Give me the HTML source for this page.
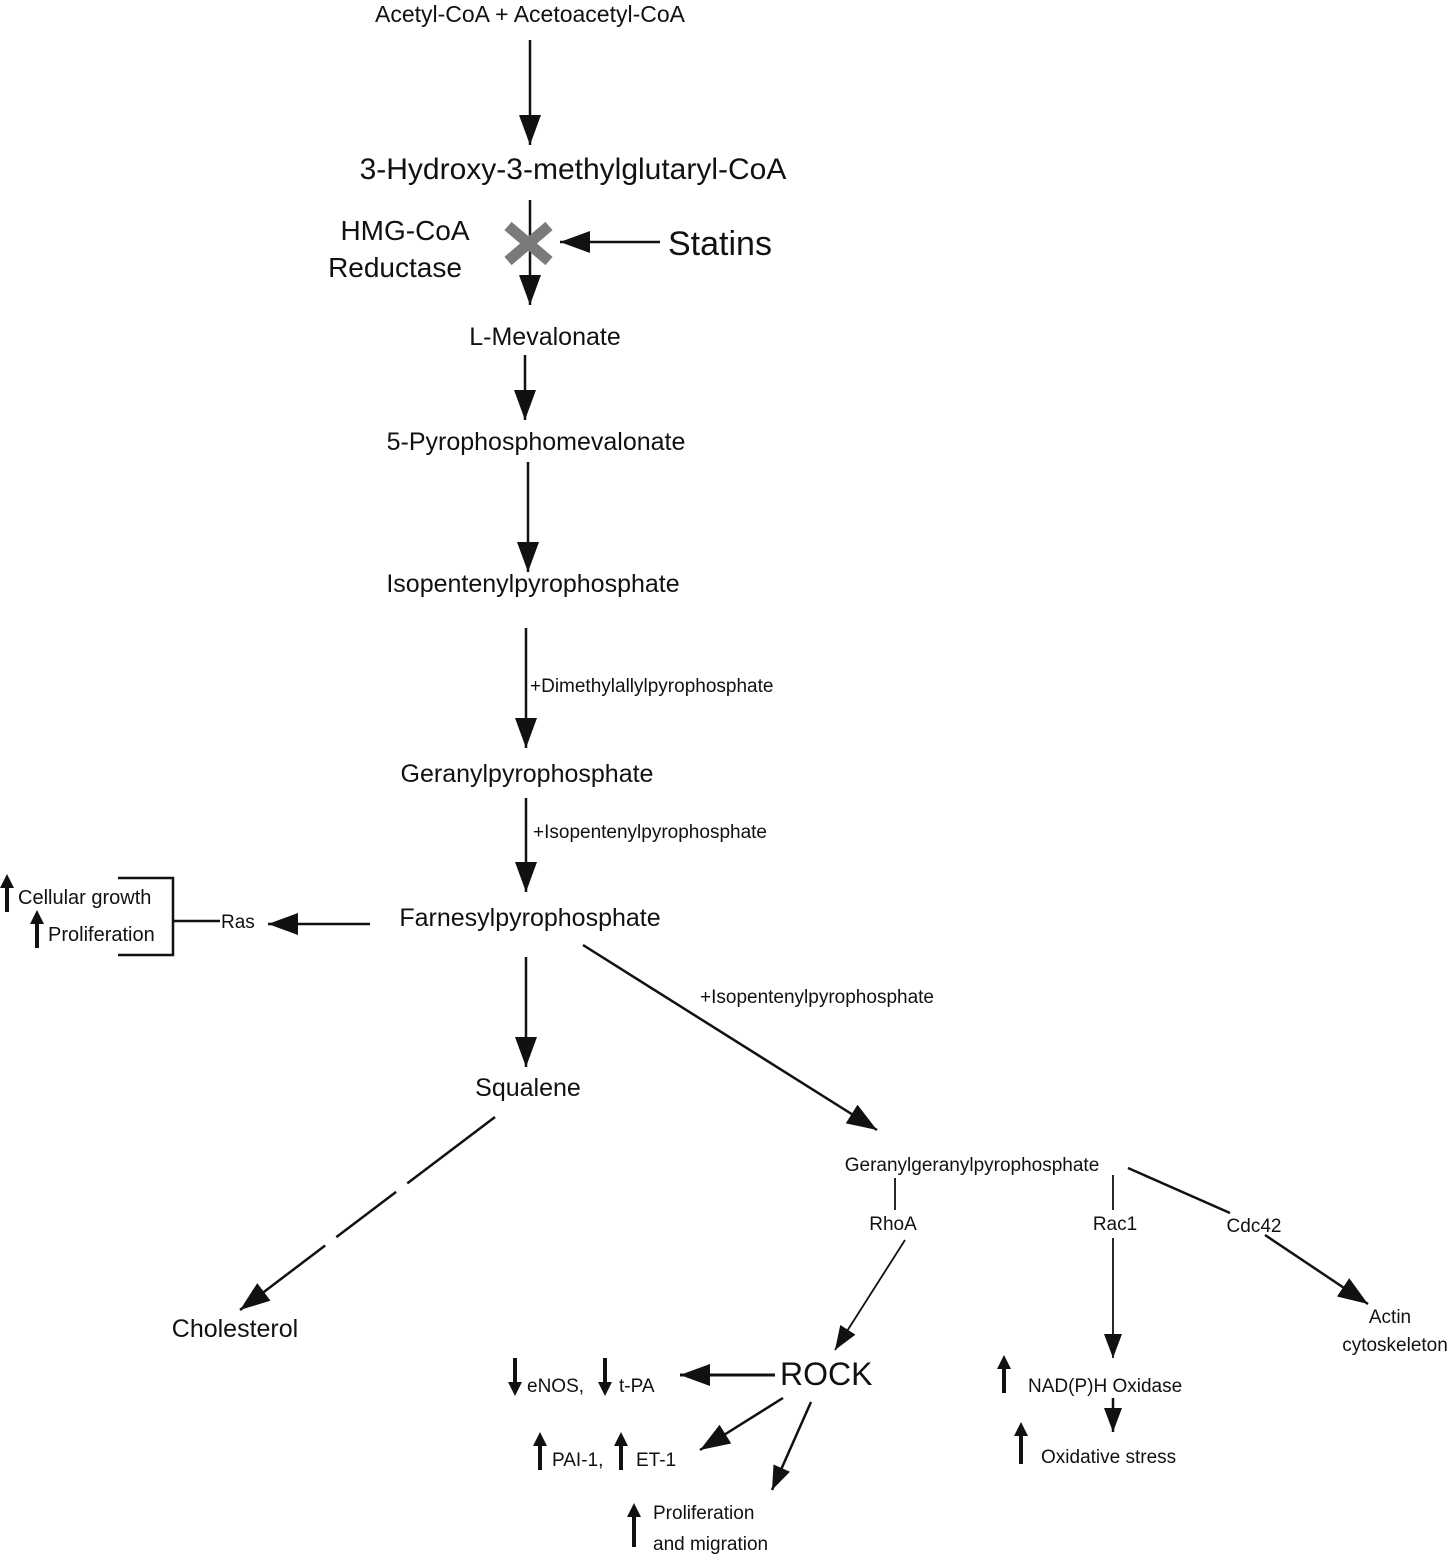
<!DOCTYPE html>
<html><head><meta charset="utf-8"><style>
html,body{margin:0;padding:0;background:#fff;}
svg{display:block;}
text{font-family:"Liberation Sans",Arial,sans-serif;fill:#111;}
</style></head><body>
<svg width="1456" height="1555" viewBox="0 0 1456 1555" xmlns="http://www.w3.org/2000/svg">
<defs>
<marker id="a" markerUnits="userSpaceOnUse" markerWidth="32" markerHeight="22" refX="30" refY="11" orient="auto"><path d="M0,0 L30,11 L0,22 z" fill="#111"/></marker>
<marker id="b" markerUnits="userSpaceOnUse" markerWidth="26" markerHeight="18" refX="24" refY="9" orient="auto"><path d="M0,0 L24,9 L0,18 z" fill="#111"/></marker>
</defs>
<g stroke="#111" stroke-width="2.5" fill="none">
<line x1="530" y1="40" x2="530" y2="145" marker-end="url(#a)"/>
<line x1="530" y1="200" x2="530" y2="305" marker-end="url(#a)"/>
<line x1="660" y1="242" x2="560" y2="242" marker-end="url(#a)"/>
<line x1="525" y1="355" x2="525" y2="420" marker-end="url(#a)"/>
<line x1="528" y1="462" x2="528" y2="572" marker-end="url(#a)"/>
<line x1="526" y1="628" x2="526" y2="748" marker-end="url(#a)"/>
<line x1="526" y1="798" x2="526" y2="892" marker-end="url(#a)"/>
<line x1="370" y1="924" x2="268" y2="924" marker-end="url(#a)"/>
<line x1="173" y1="921" x2="220" y2="921"/>
<polyline points="118,878 173,878 173,955 118,955"/>
<line x1="526" y1="957" x2="526" y2="1067" marker-end="url(#a)"/>
<line x1="583" y1="945" x2="877" y2="1130" marker-end="url(#a)"/>
<line x1="495" y1="1117" x2="240" y2="1310" stroke-dasharray="110,14,75,14,200" marker-end="url(#a)"/>
<line x1="895" y1="1178" x2="895" y2="1210" stroke-width="1.8"/>
<line x1="905" y1="1240" x2="835" y2="1350" stroke-width="1.8" marker-end="url(#b)"/>
<line x1="1113" y1="1175" x2="1113" y2="1210" stroke-width="1.8"/>
<line x1="1113" y1="1238" x2="1113" y2="1358" stroke-width="1.8" marker-end="url(#b)"/>
<line x1="1128" y1="1168" x2="1230" y2="1213"/>
<line x1="1265" y1="1235" x2="1368" y2="1304" marker-end="url(#a)"/>
<line x1="775" y1="1375" x2="680" y2="1375" stroke-width="3" marker-end="url(#a)"/>
<line x1="783" y1="1398" x2="700" y2="1450" marker-end="url(#a)"/>
<line x1="811" y1="1402" x2="772" y2="1490" marker-end="url(#b)"/>
<line x1="1113" y1="1398" x2="1113" y2="1432" marker-end="url(#b)"/>
</g>
<!-- gray X -->
<g stroke="#7a7a7a" stroke-width="11">
<line x1="508" y1="226" x2="549" y2="261"/>
<line x1="549" y1="226" x2="508" y2="261"/>
</g>
<!-- small up/down arrows -->
<g fill="#111">
<path d="M5,912 h4 v-24 h5 l-7,-14 l-7,14 h5 z"/>
<path d="M35,948 h4 v-24 h5 l-7,-14 l-7,14 h5 z"/>
<path d="M513,1358 h4 v24 h5 l-7,14 l-7,-14 h5 z"/>
<path d="M603,1358 h4 v24 h5 l-7,14 l-7,-14 h5 z"/>
<path d="M538,1470 h4 v-24 h5 l-7,-14 l-7,14 h5 z"/>
<path d="M619,1470 h4 v-24 h5 l-7,-14 l-7,14 h5 z"/>
<path d="M632,1547 h4 v-30 h5 l-7,-14 l-7,14 h5 z"/>
<path d="M1002,1393 h4 v-24 h5 l-7,-14 l-7,14 h5 z"/>
<path d="M1019,1464 h4 v-28 h5 l-7,-14 l-7,14 h5 z"/>
</g>
<g>
<text x="530" y="22" font-size="23" text-anchor="middle">Acetyl-CoA + Acetoacetyl-CoA</text>
<text x="573" y="179" font-size="30" text-anchor="middle">3-Hydroxy-3-methylglutaryl-CoA</text>
<text x="405" y="240" font-size="28" text-anchor="middle">HMG-CoA</text>
<text x="395" y="277" font-size="28" text-anchor="middle">Reductase</text>
<text x="668" y="255" font-size="34">Statins</text>
<text x="545" y="345" font-size="25" text-anchor="middle">L-Mevalonate</text>
<text x="536" y="450" font-size="25" text-anchor="middle">5-Pyrophosphomevalonate</text>
<text x="533" y="592" font-size="25" text-anchor="middle">Isopentenylpyrophosphate</text>
<text x="530" y="692" font-size="19">+Dimethylallylpyrophosphate</text>
<text x="527" y="782" font-size="25" text-anchor="middle">Geranylpyrophosphate</text>
<text x="533" y="838" font-size="19">+Isopentenylpyrophosphate</text>
<text x="530" y="926" font-size="25" text-anchor="middle">Farnesylpyrophosphate</text>
<text x="221" y="928" font-size="19">Ras</text>
<text x="18" y="904" font-size="20">Cellular growth</text>
<text x="48" y="941" font-size="20">Proliferation</text>
<text x="700" y="1003" font-size="19">+Isopentenylpyrophosphate</text>
<text x="528" y="1096" font-size="25" text-anchor="middle">Squalene</text>
<text x="235" y="1337" font-size="25" text-anchor="middle">Cholesterol</text>
<text x="972" y="1171" font-size="19" text-anchor="middle">Geranylgeranylpyrophosphate</text>
<text x="893" y="1230" font-size="19" text-anchor="middle">RhoA</text>
<text x="1115" y="1230" font-size="19" text-anchor="middle">Rac1</text>
<text x="1254" y="1232" font-size="19" text-anchor="middle">Cdc42</text>
<text x="1390" y="1323" font-size="19" text-anchor="middle">Actin</text>
<text x="1395" y="1351" font-size="19" text-anchor="middle">cytoskeleton</text>
<text x="780" y="1385" font-size="32">ROCK</text>
<text x="527" y="1392" font-size="19">eNOS,</text>
<text x="619" y="1392" font-size="19">t-PA</text>
<text x="552" y="1466" font-size="19">PAI-1,</text>
<text x="636" y="1466" font-size="19">ET-1</text>
<text x="653" y="1519" font-size="19">Proliferation</text>
<text x="653" y="1550" font-size="19">and migration</text>
<text x="1028" y="1392" font-size="19">NAD(P)H Oxidase</text>
<text x="1041" y="1463" font-size="19">Oxidative stress</text>
</g>
</svg>
</body></html>
